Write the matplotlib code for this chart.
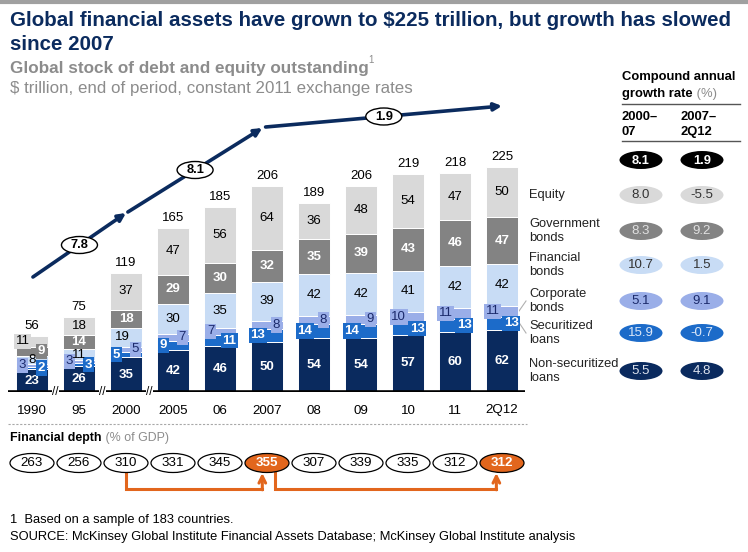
import matplotlib
matplotlib.use('Agg')
import matplotlib.pyplot as plt
from matplotlib.patches import Ellipse
import numpy as np

plt.rcParams['font.family'] = ['Liberation Sans', 'DejaVu Sans']

# ---------------- data ----------------
years = ['1990', '95', '2000', '2005', '06', '2007', '08', '09', '10', '11', '2Q12']
nonsec = [23, 26, 35, 42, 46, 50, 54, 54, 57, 60, 62]
sec = [2, 3, 5, 9, 11, 13, 14, 14, 13, 13, 13]
corp = [3, 3, 5, 7, 7, 8, 8, 9, 10, 11, 11]
fin = [8, 11, 19, 30, 35, 39, 42, 42, 41, 42, 42]
gov = [9, 14, 18, 29, 30, 32, 35, 39, 43, 46, 47]
equity = [11, 18, 37, 47, 56, 64, 36, 48, 54, 47, 50]
totals = [56, 75, 119, 165, 185, 206, 189, 206, 219, 218, 225]
depth = [263, 256, 310, 331, 345, 355, 307, 339, 335, 312, 312]
cagr_path = [7.8, 8.1, 1.9]
categories = ['Equity', 'Government\nbonds', 'Financial\nbonds', 'Corporate\nbonds',
              'Securitized\nloans', 'Non-securitized\nloans']
cagr_0007 = [8.0, 8.3, 10.7, 5.1, 15.9, 5.5]
cagr_0712 = [-5.5, 9.2, 1.5, 9.1, -0.7, 4.8]
cagr_total = [8.1, 1.9]

# ---------------- style ----------------
NAVY = '#0B2B5E'
C_NONSEC = '#0A2A5E'
C_SEC = '#1C6BC9'
C_CORP = '#9AAEE8'
C_FIN = '#C8DCF5'
C_GOV = '#838383'
C_EQ = '#D9D9D9'
ORANGE = '#E2661D'
GRAY_T = '#8C8C8C'

W, H = 748, 552
fig = plt.figure(figsize=(W / 100, H / 100), dpi=100)

# overlay axes in pixel coordinates for layout text
ov = fig.add_axes([0, 0, 1, 1])
ov.set_xlim(0, W)
ov.set_ylim(H, 0)
ov.axis('off')
ov.patch.set_alpha(0)

# ---------------- main bar axes ----------------
spacing = 47.0
c0 = 32.0
xl_px, xr_px = 8.0, 525.0
base_px, top_px = 392.0, 95.0
xlim = ((xl_px - c0) / spacing, (xr_px - c0) / spacing)
ax = fig.add_axes([xl_px / W, (H - base_px) / H, (xr_px - xl_px) / W, (base_px - top_px) / H])
ax.set_xlim(*xlim)
ax.set_ylim(0, base_px - top_px)
ax.patch.set_alpha(0)
for s in ax.spines.values():
    s.set_visible(False)
ax.set_yticks([])
x = np.arange(len(years))
ax.set_xticks(x, years)
ax.tick_params(axis='x', length=0, pad=9, labelsize=9.6)

bw = 32 / spacing
layers = [
    (nonsec, C_NONSEC, 'white', 'bold'),
    (sec, C_SEC, 'white', 'bold'),
    (corp, C_CORP, '#1B2A6B', 'normal'),
    (fin, C_FIN, 'black', 'normal'),
    (gov, C_GOV, 'white', 'bold'),
    (equity, C_EQ, 'black', 'normal'),
]
L, C, R = -0.2, 0.0, 0.2
# horizontal label placement per layer/bar
sides = [
    [C] * 11,
    [R, R, L, L, R, L, L, L, R, R, R],
    [L, L, R, R, L, R, R, R, L, L, L],
    [C, C, -0.07, C, C, C, C, C, C, C, C],
    [R, C, C, C, C, C, C, C, C, C, C],
    [L, C, C, C, C, C, C, C, C, C, C],
]
bottom = np.zeros(len(years))
for li, (vals, col, tcol, fw) in enumerate(layers):
    vals = np.array(vals, dtype=float)
    ax.bar(x, vals, bw, bottom=bottom, color=col, edgecolor='white', linewidth=0.7, zorder=2)
    for i, v in enumerate(vals):
        off = sides[li][i]
        yc = bottom[i] + v / 2
        kw = {}
        if li in (1, 2) or (i == 0 and li >= 4):
            kw['bbox'] = dict(boxstyle='square,pad=0.12', fc=col, ec='none')
        ax.text(x[i] + off, yc, f'{int(v)}', ha='center', va='center', color=tcol,
                fontsize=9.5, fontweight=fw, zorder=4, **kw)
    bottom += vals

for i, t in enumerate(totals):
    ax.text(x[i], bottom[i] + 4, str(t), ha='center', va='bottom', fontsize=9.5, color='black')

ax.axhline(0, color='black', lw=2.6, zorder=3, xmin=0, xmax=1)
for bx in (0.5, 1.5, 2.5):
    ax.text(bx, 0, '//', ha='center', va='center', fontsize=8.5, zorder=5,
            bbox=dict(boxstyle='square,pad=0.05', fc='white', ec='none'))

# growth path arrows
segs = [((0.02, 115), (2.0, 179)), ((2.04, 180), (4.9, 264)), ((4.97, 265), (10.0, 286))]
for (p0, p1), val in zip(segs, cagr_path):
    ax.annotate('', xy=p1, xytext=p0, annotation_clip=False,
                arrowprops=dict(arrowstyle='-|>', color=NAVY, lw=2.6, mutation_scale=11,
                                shrinkA=0, shrinkB=0))
    mx, my = (p0[0] + p1[0]) / 2, (p0[1] + p1[1]) / 2
    ax.add_patch(Ellipse((mx, my), 36 / spacing, 17, fc='white', ec='black', lw=1.0, zorder=6,
                         clip_on=False))
    ax.text(mx, my, f'{val}', ha='center', va='center', fontsize=9.3, fontweight='bold', zorder=7)

# connectors to right labels
ov.plot([519, 526], [311, 301], color='#B0B0B0', lw=0.8)
ov.plot([518, 526], [321, 333], color='#B0B0B0', lw=0.8)

# ---------------- financial depth row ----------------
ax2 = fig.add_axes([xl_px / W, (H - 505) / H, (xr_px - xl_px) / W, 65 / H])
ax2.set_xlim(*xlim)
ax2.set_ylim(505, 440)
ax2.axis('off')
ax2.patch.set_alpha(0)
hi = {5, 10}
for i, d in enumerate(depth):
    orange = i in hi
    ax2.add_patch(Ellipse((x[i], 463), 44 / spacing, 19, fc=ORANGE if orange else 'white',
                          ec='black', lw=0.9, zorder=3))
    ax2.text(x[i], 463.5, str(d), ha='center', va='center', fontsize=9.6,
             color='white' if orange else 'black', fontweight='bold' if orange else 'normal', zorder=4)
for sx, ex in ((2.0, 4.9), (5.17, 9.88)):
    ax2.plot([sx, sx, ex], [472.5, 489, 489], color=ORANGE, lw=2.2, solid_joinstyle='miter', zorder=2)
    ax2.annotate('', xy=(ex, 473), xytext=(ex, 489.8),
                 arrowprops=dict(arrowstyle='->', color=ORANGE, lw=2.2, mutation_scale=12,
                                 shrinkA=0, shrinkB=0), zorder=2)

# ---------------- text layout ----------------
ov.plot([0, W], [1.5, 1.5], color='#A0A0A0', lw=3)
ov.text(10, 21, 'Global financial assets have grown to $225 trillion, but growth has slowed',
        fontsize=14.8, fontweight='bold', color=NAVY, va='center')
ov.text(10, 45, 'since 2007', fontsize=14.8, fontweight='bold', color=NAVY, va='center')
t = ov.text(10, 69, 'Global stock of debt and equity outstanding', fontsize=12.3,
            fontweight='bold', color=GRAY_T, va='center')
ov.annotate('1', xy=(1, 0.75), xycoords=t, fontsize=7, color=GRAY_T, va='bottom', ha='left')
ov.text(10, 88, '$ trillion, end of period, constant 2011 exchange rates', fontsize=12.2,
        color=GRAY_T, va='center')

# right panel
HF = 9.4
ov.text(622, 77, 'Compound annual', fontsize=HF, fontweight='bold', va='center')
t = ov.text(622, 94, 'growth rate', fontsize=HF, fontweight='bold', va='center')
ov.annotate(' (%)', xy=(1, 0.5), xycoords=t, fontsize=HF, color=GRAY_T, va='center', ha='left')
ov.plot([622, 740], [104, 104], color='#555555', lw=1)
ov.text(622, 117, '2000–', fontsize=HF, fontweight='bold', va='center')
ov.text(622, 132, '07', fontsize=HF, fontweight='bold', va='center')
ov.text(681, 117, '2007–', fontsize=HF, fontweight='bold', va='center')
ov.text(681, 132, '2Q12', fontsize=HF, fontweight='bold', va='center')
ov.plot([622, 740], [141, 141], color='#555555', lw=1)

cols_x = (641, 702)
for cx, v in zip(cols_x, cagr_total):
    ov.add_patch(Ellipse((cx, 160), 43, 18, fc='black', ec='none'))
    ov.text(cx, 160.5, f'{v}', ha='center', va='center', fontsize=9.3, color='white', fontweight='bold')

row_y = [195, 231, 265, 301, 333, 371]
row_cols = [C_EQ, C_GOV, C_FIN, C_CORP, C_SEC, C_NONSEC]
row_txt = ['#333333', '#E0E0E0', '#333333', '#1B2A6B', '#DDE8F8', '#DDE3EE']
for cat, y, col, tc, a, b in zip(categories, row_y, row_cols, row_txt, cagr_0007, cagr_0712):
    ov.text(529, y, cat, fontsize=9.3, va='center', ha='left', linespacing=1.2, color='#222222')
    for cx, v in zip(cols_x, (a, b)):
        ov.add_patch(Ellipse((cx, y), 43, 18, fc=col, ec='none'))
        ov.text(cx, y + 0.5, f'{v}', ha='center', va='center', fontsize=9.5, color=tc)

# financial depth header
ov.plot([8, 527], [424, 424], color='#A8A8A8', lw=0.8, ls=(0, (2, 1.5)))
t = ov.text(10, 438, 'Financial depth', fontsize=8.9, fontweight='bold', va='center')
ov.annotate(' (% of GDP)', xy=(1, 0.5), xycoords=t, fontsize=8.9, color=GRAY_T, va='center', ha='left')

# footnotes
ov.text(10, 520, '1  Based on a sample of 183 countries.', fontsize=9.3, va='center')
ov.text(10, 537, 'SOURCE: McKinsey Global Institute Financial Assets Database; McKinsey Global Institute analysis',
        fontsize=9.3, va='center')

fig.savefig('out.png', dpi=100)
